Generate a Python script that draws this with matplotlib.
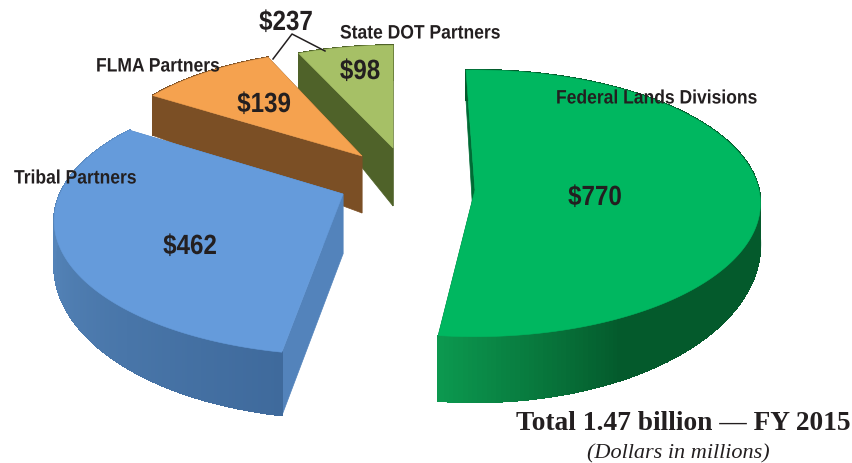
import numpy as np
import matplotlib
matplotlib.use("Agg")
import matplotlib.pyplot as plt
from matplotlib.collections import PolyCollection, LineCollection
from matplotlib.colors import to_rgb
from matplotlib.patheffects import AbstractPathEffect
from matplotlib.transforms import Affine2D

# data
categories = ["State DOT Partners", "FLMA Partners", "Tribal Partners", "Federal Lands Divisions"]
values = [98, 139, 462, 770]
value_labels = ["$98", "$139", "$462", "$770"]
bracket_label = "$237"
title = "Total 1.47 billion \u2014 FY 2015"
subtitle = "(Dollars in millions)"

# layout (pixels of the 853x463 picture)
W, H = 853, 463
persp = [0.10, 0.10, 0.20, 0.10]
apex = [(393, 148), (362, 156), (343, 194), (475, 190)]
radii = [(253, 113), (263, 117), (283, 129), (284, 132)]
start = [336, 303, 190, -2]
depth_apex = [58, 57, 60, 58]
depth_rim = [(35, 42, 60), (38, 42, 60), (30, 40, 64), (30, 38, 66)]  # back, side, front
top_col = ["#A6C066", "#F5A24F", "#659BDB", "#00B760"]
cut_col = ["#4F6229", "#7B4F25", "#5383BB", "#006B35"]
rim_stops = [
    [(0, "#4F6229"), (360, "#4F6229")],
    [(0, "#7B4F25"), (360, "#7B4F25")],
    [(190, "#3F6A9C"), (250, "#5281B5"), (310, "#6090C8")],
    [(0, "#045A2C"), (152, "#045A2C"), (187, "#0C9A50")],
]
text_col = "#231F20"


def project(a_deg, c, r, k):
    a = np.radians(a_deg)
    u, v = np.sin(a), np.cos(a)
    s = 1 / (1 + k * v)
    return c[0] + r[0] * u * s, c[1] - r[1] * v * s, v


def rim_depth(v, d):
    back, side, front = d
    return np.where(v > 0, side + (back - side) * v, side + (front - side) * (-v))


def rim_colors(angles, stops):
    xs = [p[0] for p in stops]
    rgb = np.array([to_rgb(p[1]) for p in stops])
    return np.column_stack([np.interp(angles, xs, rgb[:, i]) for i in range(3)])


class Squeeze(AbstractPathEffect):
    """Narrow a text horizontally about its anchor (no condensed face is installed)."""

    def __init__(self, factor, anchor_x):
        super().__init__()
        self.factor = factor
        self.anchor_x = anchor_x

    def draw_path(self, renderer, gc, tpath, affine, rgbFace=None):
        t = affine + Affine2D().translate(-self.anchor_x, 0).scale(self.factor, 1).translate(self.anchor_x, 0)
        renderer.draw_path(gc, tpath, t, rgbFace)


fig = plt.figure(figsize=(W / 100, H / 100), dpi=100)
ax = fig.add_axes([0, 0, 1, 1])
ax.set_xlim(0, W)
ax.set_ylim(H, 0)
ax.axis("off")

for i, val in enumerate(values):
    span = val / sum(values) * 360
    ang = np.linspace(start[i], start[i] + span, 220)
    x, y, v = project(ang, apex[i], radii[i], persp[i])
    d = rim_depth(v, depth_rim[i])
    yb = y + d
    c = apex[i]
    da = depth_apex[i]
    for j in (0, -1):
        ax.fill([x[j], x[j], c[0], c[0]], [y[j], yb[j], c[1] + da, c[1]],
                color=cut_col[i], lw=0.5, zorder=i * 3 + 1)
    quads = [[(x[k], y[k]), (x[k + 1], y[k + 1]), (x[k + 1], yb[k + 1] - 0.5), (x[k], yb[k] - 0.5)]
             for k in range(len(x) - 1)]
    cols = rim_colors(ang[:-1], rim_stops[i])
    ax.add_collection(PolyCollection(quads, facecolors=cols, edgecolors=cols, linewidths=0.8,
                                     antialiaseds=False, zorder=i * 3 + 2))
    segs = [[(x[k], yb[k] - 0.5), (x[k + 1], yb[k + 1] - 0.5)] for k in range(len(x) - 1)]
    ax.add_collection(LineCollection(segs, colors=cols, linewidths=1.0, zorder=i * 3 + 2))
    ax.fill(np.r_[c[0], x], np.r_[c[1], y], color=top_col[i], lw=0.4, zorder=i * 3 + 3)

label_style = dict(family="Liberation Sans", weight="bold", color=text_col, zorder=30, va="center")


def narrow_text(px, py, s, size, factor, ha):
    t = ax.text(px, py, s, fontsize=size, ha=ha, **label_style)
    anchor = ax.transData.transform((px, py))[0]
    t.set_path_effects([Squeeze(factor, anchor)])
    return t


narrow_text(340, 34, categories[0], 14, 0.9, "left")
narrow_text(96, 67, categories[1], 14, 0.9, "left")
narrow_text(14, 179, categories[2], 14, 0.9, "left")
narrow_text(556, 99, categories[3], 14, 0.9, "left")

for s, xy in zip(value_labels, [(360, 72), (264, 105), (190, 247), (595, 198)]):
    narrow_text(xy[0], xy[1], s, 20, 0.87, "center")
narrow_text(286, 23, bracket_label, 20, 0.87, "center")
ax.plot([273, 292, 325], [59, 34, 51], color=text_col, lw=1.1, zorder=29)

ax.text(851, 423, title, family="Liberation Serif", weight="bold", fontsize=19.7,
        ha="right", va="center", color=text_col)
ax.text(678, 454, subtitle, family="Liberation Serif", style="italic", fontsize=16,
        ha="center", va="center", color=text_col)

fig.savefig("out.png", dpi=100)
